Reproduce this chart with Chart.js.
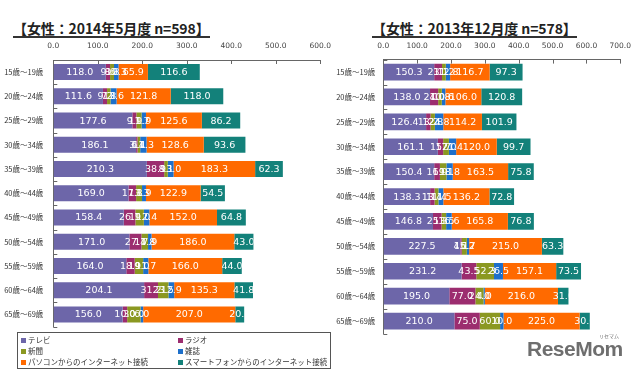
<!DOCTYPE html>
<html>
<head>
<meta charset="utf-8">
<script src="https://cdn.jsdelivr.net/npm/chart.js@4.4.1/dist/chart.umd.min.js"></script>
<style>
  body{margin:0;background:#fff;width:640px;height:371px;position:relative;overflow:hidden;font-family:"Noto Sans CJK JP",sans-serif;}
  .title{position:absolute;top:20px;font-weight:bold;font-size:14px;line-height:16px;color:#222;border-bottom:2px solid #333;white-space:nowrap;letter-spacing:-0.1px;}
  canvas{position:absolute;top:0;}
  #legend{position:absolute;left:17px;top:332px;width:312px;height:35px;border:1px solid #555;font-size:7.5px;color:#333;}
  #legend span{position:absolute;white-space:nowrap;line-height:9px;}
  #legend i{display:inline-block;width:5px;height:5px;margin-right:2px;vertical-align:0px;}
  #logo{position:absolute;left:527px;top:337px;font-family:"Liberation Sans",sans-serif;font-weight:bold;font-size:21px;color:#6e6e6e;letter-spacing:-0.5px;}
  #logo small{position:absolute;left:72px;top:-5px;font-size:5px;font-family:"Noto Sans CJK JP";letter-spacing:0;font-weight:normal;}
</style>
</head>
<body>
<div class="title" style="left:13px">【女性：2014年5月度&nbsp;n=598】</div>
<div class="title" style="left:372px">【女性：2013年12月度&nbsp;n=578】</div>
<canvas id="c2014" width="340" height="341" style="left:0;width:340px;height:341px"></canvas>
<canvas id="c2013" width="320" height="346" style="left:320px;width:320px;height:346px"></canvas>
<div id="legend"></div>
<div id="logo">ReseMom<small>リセマム</small></div>
<script>
// age groups
const ages = ['15歳～19歳','20歳～24歳','25歳～29歳','30歳～34歳','35歳～39歳','40歳～44歳','45歳～49歳','50歳～54歳','55歳～59歳','60歳～64歳','65歳～69歳'];
const seriesNames = ['テレビ','ラジオ','新聞','雑誌','パソコンからのインターネット接続','スマートフォンからのインターネット接続'];
const colors = ['#6d66a9','#9c2d6f','#8b9821','#1d6fca','#ff6a00','#13817a'];

// 2014年5月度 n=598
const tv14    = [118.0, 111.6, 177.6, 186.1, 210.3, 169.0, 158.4, 171.0, 164.0, 204.1, 156.0];
const radio14 = [9.6, 9.2, 9.1, 3.1, 38.9, 17.1, 26.1, 27.1, 18.9, 31.2, 10.0];
const news14  = [8.8, 7.8, 11.7, 6.1, 8.1, 13.3, 19.0, 14.8, 19.0, 23.5, 30.0];
const mag14   = [10.3, 13.6, 9.9, 14.3, 13.0, 8.9, 12.4, 7.9, 11.7, 12.9, 6.0];
const pc14    = [65.9, 121.8, 125.6, 128.6, 183.3, 122.9, 152.0, 186.0, 166.0, 135.3, 207.0];
const sp14    = [116.6, 118.0, 86.2, 93.6, 62.3, 54.5, 64.8, 43.0, 44.0, 41.8, 20.0];

// 2013年12月度 n=578
const tv13    = [150.3, 138.0, 126.4, 161.1, 150.4, 138.3, 146.8, 227.5, 231.2, 195.0, 210.0];
const radio13 = [23.1, 24.0, 13.2, 15.7, 16.9, 13.1, 25.3, 4.1, 43.5, 77.0, 75.0];
const news13  = [11.2, 10.8, 12.8, 17.0, 19.1, 11.4, 13.5, 15.2, 52.3, 24.0, 60.0];
const mag13   = [12.8, 10.6, 24.8, 21.4, 18.8, 14.5, 16.6, 6.7, 26.5, 4.0, 10.0];
const pc13    = [116.7, 106.0, 114.2, 120.0, 163.5, 136.2, 165.8, 215.0, 157.1, 216.0, 225.0];
const sp13    = [97.3, 120.8, 101.9, 99.7, 75.8, 72.8, 76.8, 63.3, 73.5, 31.0, 30.0];

// white value labels centred in each segment, cut at the bar's end
const valueLabels = {
  id:'valueLabels',
  afterDatasetsDraw(chart){
    const ctx = chart.ctx, xs = chart.scales.x, area = chart.chartArea;
    const n = chart.data.labels.length;
    ctx.save();
    ctx.font = '9.5px "DejaVu Sans"';
    ctx.fillStyle = '#fff';
    ctx.textAlign = 'center';
    ctx.textBaseline = 'middle';
    for (let i = 0; i < n; i++){
      let total = 0;
      chart.data.datasets.forEach(d => total += d.data[i]);
      const endX = xs.getPixelForValue(total);
      chart.data.datasets.forEach((d, di) => {
        const bar = chart.getDatasetMeta(di).data[i];
        ctx.save();
        ctx.beginPath();
        ctx.rect(area.left, bar.y - 10, endX - area.left, 20);
        ctx.clip();
        ctx.fillText(d.data[i].toFixed(1), (bar.x + bar.base) / 2, bar.y + 0.5);
        ctx.restore();
      });
    }
    ctx.restore();
  }
};

// short tick marks pointing into the plot
const innerTicks = {
  id:'innerTicks',
  afterDraw(chart){
    const ctx = chart.ctx, xs = chart.scales.x, ys = chart.scales.y, a = chart.chartArea;
    ctx.save();
    ctx.strokeStyle = '#666';
    ctx.lineWidth = 1;
    ctx.beginPath();
    xs.ticks.forEach(t => {
      const x = Math.round(xs.getPixelForValue(t.value)) + 0.5;
      ctx.moveTo(x, a.top); ctx.lineTo(x, a.top + 4);
    });
    for (let i = 0; i <= chart.data.labels.length; i++){
      const y = Math.round(ys.getPixelForValue(i - 0.5)) + 0.5;
      ctx.moveTo(a.left, y); ctx.lineTo(a.left + 4, y);
    }
    ctx.stroke();
    ctx.restore();
  }
};

function makeChart(id, sets, max, yWidth, xHeight, pad, labelPad, barPct){
  return new Chart(document.getElementById(id), {
    type:'bar',
    data:{
      labels: ages,
      datasets: sets.map((s, k) => ({ label: seriesNames[k], data: s, backgroundColor: colors[k], borderWidth: 0,
        barPercentage: barPct, categoryPercentage: 1 }))
    },
    options:{
      indexAxis:'y',
      responsive:false,
      animation:false,
      layout:{ padding: pad },
      plugins:{ legend:{display:false}, tooltip:{enabled:false} },
      scales:{
        x:{
          position:'top', stacked:true, min:0, max:max,
          afterFit: s => { s.height = xHeight; },
          grid:{ display:true, drawOnChartArea:false, drawTicks:false },
          border:{ display:true, color:'#666' },
          ticks:{ stepSize:100, padding:9, color:'#444', font:{ family:'DejaVu Sans', size:7.5 },
                  callback: v => Number(v).toFixed(1) }
        },
        y:{
          stacked:true,
          afterFit: s => { s.width = yWidth; },
          grid:{ display:false, drawTicks:false },
          border:{ display:true, color:'#666' },
          ticks:{ padding: labelPad, color:'#333', font:{ family:'Noto Sans CJK JP', size:7.5 } }
        }
      }
    },
    plugins:[valueLabels, innerTicks]
  });
}

makeChart('c2014', [tv14, radio14, news14, mag14, pc14, sp14], 600, 53.3, 60,
  { left:0, right:16.7, top:0, bottom:8 }, 10, 0.66);
makeChart('c2013', [tv13, radio13, news13, mag13, pc13, sp13], 700, 63.3, 59.6,
  { left:0, right:11.7, top:0, bottom:7 }, 8, 0.67);

// legend, two columns
const legend = document.getElementById('legend');
seriesNames.forEach((name, k) => {
  const sp = document.createElement('span');
  sp.style.left = (k % 2 ? 160 : 3) + 'px';
  sp.style.top = (2 + Math.floor(k / 2) * 11) + 'px';
  sp.innerHTML = '<i style="background:' + colors[k] + '"></i>' + name;
  legend.appendChild(sp);
});
</script>
</body>
</html>
